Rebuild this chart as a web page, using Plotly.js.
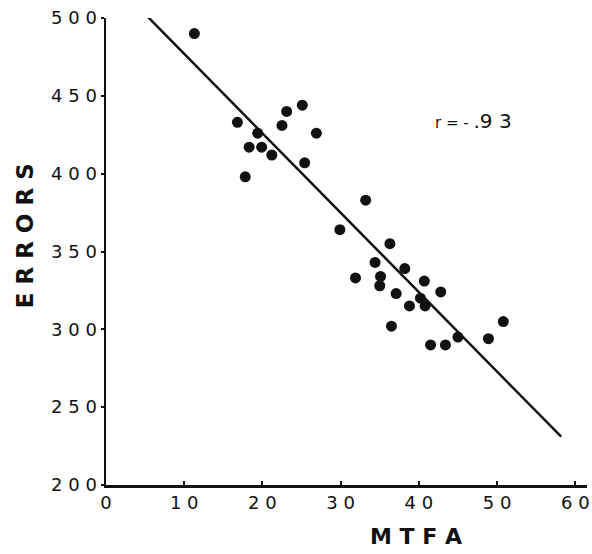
<!DOCTYPE html>
<html>
<head>
<meta charset="utf-8">
<script src="https://cdn.plot.ly/plotly-3.0.1.min.js"></script>
<style>html,body{margin:0;padding:0;background:#fff}#chart{width:592px;height:554px}</style>
</head>
<body>
<div id="chart"></div>
<script>
// Data
const mtfa   = [11.3, 16.8, 19.4, 18.3, 19.9, 21.2, 17.8, 22.5, 23.1, 25.1, 26.9, 25.4,
                33.2, 29.9, 36.3, 34.4, 38.2, 31.9, 35.1, 35.0, 40.7, 37.1, 42.8, 40.2,
                38.8, 40.8, 36.5, 50.8, 45.0, 48.9, 41.5, 43.4];
const errors = [490, 433, 426, 417, 417, 412, 398, 431, 440, 444, 426, 407,
                383, 364, 355, 343, 339, 333, 334, 328, 331, 323, 324, 320,
                315, 315, 302, 305, 295, 294, 290, 290];
const fitX = [5.1, 58.2];
const fitY = [502, 231];
const xTickVals = [0, 10, 20, 30, 40, 50, 60];
const xTickText = ["0", "1 0", "2 0", "3 0", "4 0", "5 0", "6 0"];
const yTickVals = [200, 250, 300, 350, 400, 450, 500];
const yTickText = ["2 0 0", "2 5 0", "3 0 0", "3 5 0", "4 0 0", "4 5 0", "5 0 0"];
const xTitle = "M T F A";
const yTitle = "E R R O R S";
const rLabel = "r = - <span style='font-size:20px'>.9 3</span>";

const font = "DejaVu Sans, Arial, sans-serif";
const ink = "#111";

const traces = [
  {x: fitX, y: fitY, mode: "lines", type: "scatter",
   line: {color: ink, width: 2.5}, hoverinfo: "skip", showlegend: false},
  {x: mtfa, y: errors, mode: "markers", type: "scatter",
   marker: {color: ink, size: 11}, showlegend: false, cliponaxis: false}
];

const layout = {
  width: 592, height: 554,
  margin: {l: 106, r: 5, t: 18, b: 69},
  paper_bgcolor: "#fff", plot_bgcolor: "#fff",
  showlegend: false,
  xaxis: {
    range: [0, 61.5], showgrid: false, zeroline: false,
    showline: true, linecolor: ink, linewidth: 2.5,
    ticks: "inside", ticklen: 4, tickwidth: 2, tickcolor: ink,
    tickmode: "array", tickvals: xTickVals, ticktext: xTickText,
    tickfont: {family: font, size: 18, color: ink}
  },
  yaxis: {
    range: [200, 500], showgrid: false, zeroline: false,
    showline: true, linecolor: ink, linewidth: 2.5,
    ticks: "outside", ticklen: 3, tickwidth: 2, tickcolor: ink,
    tickmode: "array", tickvals: yTickVals, ticktext: yTickText,
    tickfont: {family: font, size: 18, color: ink}
  },
  annotations: [
    {x: 41.8, y: 434, xref: "x", yref: "y", xanchor: "left", yanchor: "middle",
     text: rLabel, showarrow: false, font: {family: font, size: 15, color: ink}},
    {x: 0.644, y: -0.111, xref: "paper", yref: "paper", xanchor: "center", yanchor: "middle",
     text: xTitle, showarrow: false, font: {family: font, size: 22, color: ink, weight: "bold"}},
    {x: -0.168, y: 0.533, xref: "paper", yref: "paper", xanchor: "center", yanchor: "middle",
     textangle: -90, text: yTitle, showarrow: false,
     font: {family: font, size: 23, color: ink, weight: "bold"}}
  ]
};

Plotly.newPlot("chart", traces, layout, {staticPlot: true, displayModeBar: false});
</script>
</body>
</html>
